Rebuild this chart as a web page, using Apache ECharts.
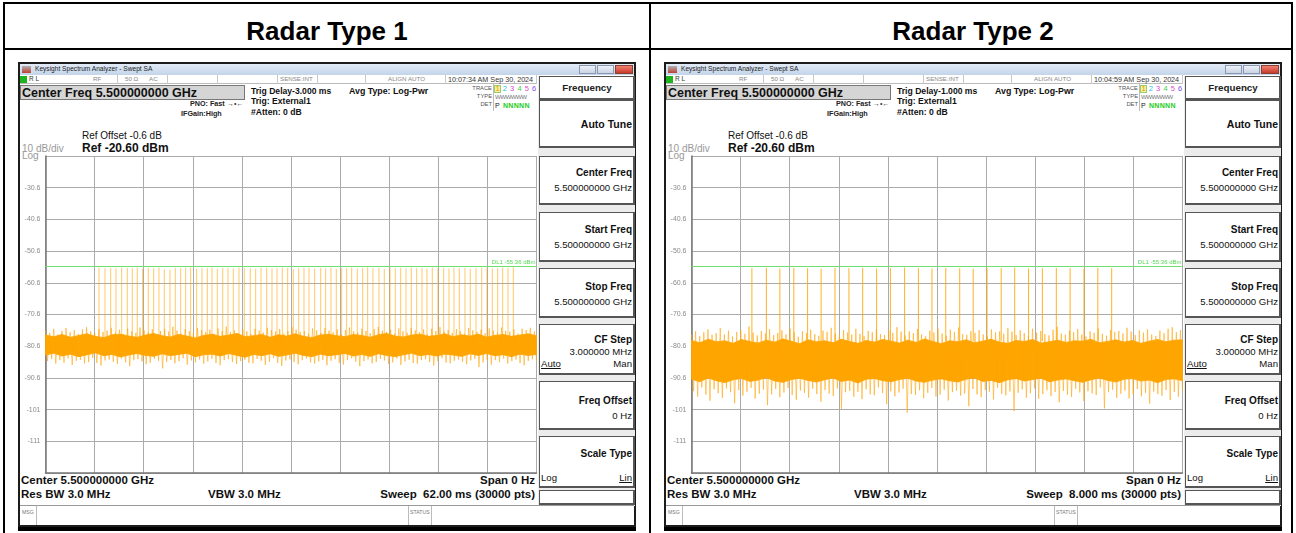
<!DOCTYPE html>
<html><head><meta charset="utf-8">
<script src="https://cdn.jsdelivr.net/npm/echarts/dist/echarts.min.js"></script>
<style>
html,body{margin:0;padding:0;background:#fff;}
#page{position:relative;width:1296px;height:533px;overflow:hidden;font-family:"Liberation Sans",Arial,sans-serif;background:#fff;}
.a{position:absolute;white-space:pre;}
.box{position:absolute;box-sizing:border-box;}
#chart{position:absolute;left:0;top:0;width:1296px;height:533px;z-index:5;}
</style></head>
<body><div id="page"><div id="chart"></div></div>
<script>
// ---------------- DATA ----------------
const REF_BOTTOM_DBM = -120.6;      // bottom graticule (Ref -20.60 dBm, 10 dB/div)
const DISPLAY_LINE_DBM = -55.36;    // DL1
const L_SWEEP_MS = 62;
const R_SWEEP_MS = 8;
const PULSE_FLOOR_DBM = -79;

// Radar Type 1 pulse positions (ms within 62 ms sweep) and peak levels (dBm)
const L_PULSE_MS = [6.76,7.51,8.23,8.90,9.62,10.33,10.96,11.59,12.27,12.98,13.66,14.33,15.00,15.72,16.39,17.07,17.70,18.33,19.09,19.76,
 20.43,21.02,21.69,22.38,23.04,23.71,24.43,25.10,25.86,26.54,27.21,27.93,28.60,29.23,29.90,30.58,31.29,31.97,32.64,33.27,
 33.99,34.75,35.38,36.05,36.72,37.40,38.03,38.66,39.37,40.05,40.68,41.35,42.11,42.78,43.50,44.17,44.85,45.52,46.19,46.87,
 47.54,48.17,48.84,49.56,50.28,50.95,51.58,52.25,52.97,53.64,54.36,55.08,55.75,56.42,57.10,57.73,58.40,59.07];
const L_PULSE_TOP = [-55.8,-56.0,-55.9,-56.1,-55.8,-55.9,-56.0,-55.8,-56.2,-55.9,-56.0,-55.8,-56.4,-56.5,-55.9,-56.0,-55.8,-55.7,-56.1,-55.9,
 -56.0,-55.8,-56.2,-55.9,-56.0,-56.1,-55.8,-55.9,-56.0,-56.2,-55.8,-55.9,-56.1,-56.0,-55.8,-55.9,-56.2,-56.0,-55.8,-55.9,
 -56.1,-55.9,-56.0,-55.8,-56.2,-55.9,-56.0,-55.8,-56.1,-55.9,-55.7,-56.0,-55.9,-56.2,-55.8,-56.0,-55.9,-56.1,-55.8,-56.0,
 -55.9,-56.2,-55.8,-56.0,-55.9,-56.1,-55.8,-56.0,-55.9,-56.2,-56.0,-55.8,-55.9,-56.1,-56.0,-55.8,-55.9,-55.7];

// Radar Type 2 pulse positions (ms within 8 ms sweep) and peak levels (dBm)
const R_PULSE_MS = [0.984,1.220,1.440,1.667,1.892,2.112,2.338,2.565,2.789,3.016,3.241,3.472,3.697,3.918,4.143,4.370,4.590,4.815,5.046,5.266,
 5.492,5.717,5.944,6.169,6.395,6.620,6.846];
const R_PULSE_TOP = [-56.0,-55.9,-56.1,-55.9,-56.0,-56.2,-55.9,-56.0,-55.9,-56.1,-56.0,-55.8,-56.0,-56.1,-55.9,-56.0,-56.2,-55.9,-56.0,-55.8,
 -56.1,-56.0,-55.9,-56.0,-56.1,-55.9,-56.0];

// Noise floor, Radar Type 1 (dBm): dense core band edges and outer spike extremes
const L_CORE_HI = [-77.1,-77.6,-76.9,-77.8,-77.2,-76.7,-77.5,-77.9,-77.0,-76.8,-77.4,-77.8,-77.1,-76.6,-77.3,-77.7,-76.9,-77.4,-78.0,-77.2,
 -76.8,-77.5,-77.1,-76.6,-77.6,-77.3,-76.9,-77.8,-77.0,-77.4,-76.7,-77.5,-77.9,-77.1,-76.8,-77.3,-77.6,-76.9,-77.2,-77.8,
 -77.0,-76.6,-77.4,-77.7,-77.1,-76.8,-77.5,-77.2,-76.7,-77.6,-77.0,-77.4,-76.8,-77.7,-77.2,-76.9,-77.5,-77.1,-76.7,-77.3];
const L_CORE_LO = [-83.4,-82.8,-83.7,-83.1,-83.9,-83.3,-82.7,-83.6,-83.2,-84.0,-83.4,-82.9,-83.5,-83.8,-83.0,-83.6,-83.2,-82.8,-83.9,-83.3,
 -83.1,-83.7,-82.9,-83.5,-84.1,-83.2,-83.6,-83.0,-83.8,-83.4,-82.8,-83.5,-83.9,-83.1,-83.6,-83.3,-82.9,-83.7,-83.2,-83.8,
 -83.0,-83.5,-83.9,-83.3,-82.8,-83.6,-83.2,-83.7,-83.1,-83.4,-83.8,-83.0,-83.5,-82.9,-83.6,-83.3,-83.9,-83.1,-83.5,-83.2];
const L_PEAK = [-75.6,-76.4,-75.1,-76.9,-75.8,-74.9,-76.2,-75.5,-76.7,-75.3,-74.6,-75.9,-76.5,-75.2,-76.1,-75.7,-74.8,-76.3,-75.4,-76.8,
 -75.0,-75.9,-76.4,-74.7,-75.6,-76.2,-75.3,-76.9,-75.8,-75.1,-76.0,-74.5,-75.7,-76.6,-75.2,-75.9,-76.3,-74.9,-75.5,-76.1,
 -75.4,-76.7,-75.0,-75.8,-74.4,-76.2,-75.6,-76.5,-75.3,-75.9,-76.8,-75.1,-75.7,-76.3,-74.8,-75.5,-76.0,-75.2,-76.6,-75.8,
 -74.6,-75.4,-76.1,-75.9,-76.7,-75.0,-75.6,-76.4,-74.9,-75.7,-76.2,-75.3,-76.8,-75.5,-74.7,-75.9,-76.3,-75.1,-75.8,-76.5,
 -75.2,-74.5,-75.7,-76.1,-75.4,-76.6,-75.0,-75.9,-76.3,-74.8,-75.6,-76.2,-75.3,-76.9,-75.1,-75.8,-74.6,-76.0,-75.5,-76.4,
 -75.2,-75.9,-76.7,-74.9,-75.6,-76.1,-75.4,-76.5,-75.0,-75.7,-76.3,-74.7,-75.8,-76.0,-75.3,-76.6,-75.1,-75.5,-74.8,-75.9];
const L_DIP = [-85.3,-84.6,-86.1,-85.0,-85.8,-84.4,-86.5,-85.2,-84.9,-86.0,-85.6,-84.3,-85.9,-86.7,-85.1,-84.8,-85.5,-86.2,-84.5,-85.7,
 -86.9,-85.0,-84.7,-85.4,-86.3,-85.8,-84.6,-85.2,-87.6,-85.5,-84.9,-86.0,-85.3,-84.4,-86.4,-85.1,-85.7,-84.8,-86.1,-85.4,
 -84.5,-85.9,-86.6,-85.0,-84.7,-85.6,-86.2,-85.3,-84.9,-85.8,-86.0,-84.6,-85.2,-86.5,-85.5,-84.3,-85.9,-86.8,-85.1,-84.8,
 -85.6,-86.3,-85.0,-84.5,-85.7,-86.1,-85.4,-84.9,-86.6,-85.2,-84.7,-85.8,-86.4,-85.0,-84.4,-85.5,-86.9,-85.3,-84.8,-86.0,
 -85.6,-84.6,-85.1,-86.2,-85.7,-84.5,-86.5,-85.4,-84.9,-85.9,-86.1,-85.0,-84.7,-85.6,-86.7,-85.3,-84.4,-85.8,-86.0,-85.2,
 -84.8,-85.5,-86.3,-85.1,-84.6,-87.2,-85.7,-84.9,-86.4,-85.0,-85.6,-84.5,-86.1,-85.3,-84.8,-85.9,-86.6,-85.2,-84.7,-85.4];

// Noise floor, Radar Type 2 (dBm)
const R_CORE_HI = [-78.8,-79.5,-78.4,-79.2,-78.9,-79.7,-78.5,-79.1,-79.6,-78.7,-79.3,-78.3,-79.0,-79.8,-78.6,-79.2,-78.9,-79.5,-78.4,-79.1,
 -79.7,-78.8,-79.3,-78.5,-79.0,-79.6,-78.7,-79.4,-78.3,-79.1,-79.8,-78.9,-79.2,-78.6,-79.5,-79.0,-78.4,-79.3,-79.7,-78.8,
 -79.1,-78.5,-79.6,-79.2,-78.7,-79.4,-78.9,-79.0,-78.4,-79.5,-79.1,-78.6,-79.3,-78.8,-79.7,-79.0,-78.5,-79.2,-78.7,-78.6];
const R_CORE_LO = [-91.0,-91.8,-90.6,-91.5,-92.1,-91.2,-90.8,-91.7,-91.3,-90.5,-91.6,-92.0,-91.1,-90.7,-91.4,-91.9,-91.2,-90.6,-91.7,-91.3,
 -92.2,-91.0,-90.8,-91.5,-91.8,-91.1,-90.7,-91.6,-92.0,-91.3,-90.9,-91.5,-91.9,-91.0,-90.6,-91.7,-91.4,-92.1,-91.2,-90.8,
 -91.6,-91.1,-90.7,-91.8,-91.3,-90.9,-91.5,-92.0,-91.2,-90.6,-91.4,-91.9,-91.0,-90.8,-91.6,-91.3,-92.1,-91.1,-90.9,-91.5];
const R_PEAK = [-76.8,-75.9,-77.4,-76.2,-75.3,-77.0,-76.5,-74.9,-76.9,-75.7,-77.5,-76.1,-75.5,-76.7,-74.4,-76.3,-77.2,-75.8,-76.6,-75.2,
 -77.1,-76.4,-75.6,-76.9,-75.0,-76.2,-77.6,-75.9,-76.5,-75.4,-76.8,-77.3,-75.7,-76.1,-74.8,-76.6,-77.0,-75.5,-76.3,-76.9,
 -75.1,-76.7,-77.4,-75.8,-76.2,-75.3,-76.8,-77.1,-75.6,-76.4,-74.6,-76.0,-77.2,-75.9,-76.5,-75.2,-76.9,-77.5,-75.7,-76.3,
 -75.0,-76.6,-77.3,-75.4,-76.1,-74.7,-76.8,-77.0,-75.8,-76.4,-75.5,-76.9,-77.6,-75.3,-76.2,-75.9,-76.7,-74.9,-76.0,-77.1,
 -75.6,-76.5,-77.4,-75.1,-76.3,-75.8,-76.8,-77.2,-75.4,-74.5,-76.6,-77.0,-75.7,-76.2,-75.2,-76.9,-77.5,-75.9,-76.4,-75.0,
 -76.7,-77.3,-75.5,-76.1,-75.8,-76.6,-74.8,-76.0,-77.1,-75.6,-76.3,-75.3,-76.9,-77.4,-75.7,-76.5,-75.1,-74.6,-76.2,-75.5];
const R_DIP = [-94.8,-96.5,-93.6,-95.9,-97.8,-94.2,-95.4,-96.9,-93.9,-95.1,-98.6,-94.5,-96.2,-95.0,-93.7,-97.1,-95.6,-94.3,-99.2,-95.8,
 -94.1,-96.7,-95.2,-93.8,-96.0,-97.5,-94.6,-95.3,-96.8,-94.0,-95.7,-98.1,-94.4,-95.5,-96.3,-93.9,-100.4,-95.1,-94.7,-96.6,
 -95.0,-97.3,-94.2,-95.8,-96.1,-93.6,-95.4,-98.9,-94.8,-96.4,-95.2,-94.0,-101.6,-95.7,-96.0,-94.5,-97.0,-95.3,-93.8,-96.5,
 -95.9,-94.3,-97.7,-95.1,-94.6,-96.2,-95.5,-99.5,-94.1,-95.8,-96.7,-94.4,-95.0,-97.4,-93.7,-95.6,-96.1,-94.9,-101.1,-95.3,
 -94.2,-96.8,-95.4,-93.9,-97.2,-95.7,-94.5,-96.3,-95.0,-98.3,-94.7,-95.9,-96.6,-94.0,-95.2,-97.9,-94.8,-95.5,-96.0,-93.6,
 -100.2,-95.1,-94.3,-96.9,-95.6,-94.6,-97.1,-95.8,-94.1,-96.4,-95.3,-98.7,-94.9,-95.7,-96.2,-94.4,-97.6,-95.0,-96.5,-94.7];

// Y tick labels shown on the graticule (dBm)
const Y_TICK_LABELS = ['-111','-101','-90.6','-80.6','-70.6','-60.6','-50.6','-40.6','-30.6'];

const PANELS = [
  {ox:0,   title:'Radar Type 1', trig:'Trig Delay-3.000 ms', clock:'10:07:34 AM Sep 30, 2024', sweep:'Sweep  62.00 ms (30000 pts)'},
  {ox:646, title:'Radar Type 2', trig:'Trig Delay-1.000 ms', clock:'10:04:59 AM Sep 30, 2024', sweep:'Sweep  8.000 ms (30000 pts)'}
];

// ---------------- CHROME (HTML) ----------------
const page = document.getElementById('page');
function el(x,y,w,h,st){const d=document.createElement('div');d.className='box';
  Object.assign(d.style,{left:x+'px',top:y+'px',width:w+'px',height:h+'px'},st||{});page.appendChild(d);return d;}
function txt(s,x,cy,size,o){o=o||{};const d=document.createElement('div');d.className='a';d.textContent=s;
  const st={fontSize:size+'px',lineHeight:size+'px',top:(cy-size/2)+'px',color:o.color||'#111',fontWeight:o.bold?'bold':'normal'};
  if(o.align==='right'){st.left=(x-600)+'px';st.width='600px';st.textAlign='right';}
  else if(o.align==='center'){st.left=(x-300)+'px';st.width='600px';st.textAlign='center';}
  else st.left=x+'px';
  if(o.ul)st.textDecoration='underline';
  if(o.ls)st.letterSpacing=o.ls;
  Object.assign(d.style,st);page.appendChild(d);return d;}

// table lines
el(3,2,1290,2,{background:'#000'});
el(3,48,1290,2,{background:'#000'});
el(3,2,2,531,{background:'#000'});
el(649,2,2,531,{background:'#000'});
el(1291,2,2,531,{background:'#000'});

PANELS.forEach(p=>{
  const o=p.ox;
  txt(p.title, o+327, 31, 26, {bold:true, align:'center', color:'#000'});
  // window
  el(o+18,62,618,465,{border:'2px solid #1c1c1c',background:'#fff'});
  el(o+20,64,614,11,{background:'linear-gradient(#e2ebf6,#c3d4ea)'});
  el(o+22,66,9,7,{background:'linear-gradient(#b0b0b0,#c04030)'});
  txt('Keysight Spectrum Analyzer - Swept SA', o+35, 69.5, 6.6, {color:'#222'});
  el(o+579,65,17,9,{border:'1px solid #8a98b0',background:'linear-gradient(#eef2f8,#c9d3e2)'});
  el(o+597,65,17,9,{border:'1px solid #8a98b0',background:'linear-gradient(#eef2f8,#c9d3e2)'});
  el(o+615,65,18,9,{border:'1px solid #8a4030',background:'linear-gradient(#f08070,#c83a28)'});
  // status row
  el(o+20,75,517,9,{borderBottom:'1px solid #bbb',background:'#fff'});
  el(o+20,76,7,7,{background:'#1db41d'});
  txt('R L', o+29, 79.5, 6.5, {color:'#333'});
  txt('RF', o+93, 79.5, 6.2, {color:'#888'});
  txt('50 Ω', o+125, 79.5, 6.2, {color:'#888'});
  txt('AC', o+149, 79.5, 6.2, {color:'#888'});
  txt('SENSE:INT', o+280, 79.5, 6.2, {color:'#888'});
  txt('ALIGN AUTO', o+388, 79.5, 6.2, {color:'#888'});
  txt(p.clock, o+448, 79.5, 7.2, {color:'#333'});
  [117,167,217,277,317,365,445,536].forEach(x=>el(o+x,75,1,9,{background:'#c8c8c8'}));
  // header info
  el(o+20,85,225,15,{background:'#d5d5d5',border:'1px solid #777'});
  txt('Center Freq 5.500000000 GHz', o+22, 93, 12.5, {bold:true});
  txt(p.trig, o+251, 91.5, 8.6, {bold:true});
  txt('Trig: External1', o+251, 101.5, 8.6, {bold:true});
  txt('#Atten: 0 dB', o+251, 112, 8.6, {bold:true});
  txt('PNO: Fast', o+190, 104, 7.2, {bold:true, color:'#222'});
  txt('→•←', o+227, 103.5, 7, {color:'#333'});
  txt('IFGain:High', o+181, 113.5, 7.2, {bold:true, color:'#222'});
  txt('Avg Type: Log-Pwr', o+349, 91.5, 8.8, {bold:true});
  txt('TRACE', o+492, 88.5, 5.8, {align:'right', color:'#555'});
  txt('TYPE', o+492, 96.5, 5.8, {align:'right', color:'#555'});
  txt('DET', o+492, 104.5, 5.8, {align:'right', color:'#555'});
  el(o+493,84,1,27,{background:'#bbb'});
  el(o+494,85,7,8,{background:'#f6f0a0',border:'1px solid #9ccf6a'});
  const dc=['#e59a00','#1fc0e0','#e040e0','#3cd040','#e050c0','#8050f0'];
  ['1','2','3','4','5','6'].forEach((d,i)=>txt(d, o+495.5+i*7.3, 89, 7.5, {color:dc[i]}));
  txt('WWWWWW', o+495, 97, 6.2, {color:'#777', ls:'-0.6px'});
  txt('P', o+495, 105, 7, {color:'#222'});
  txt('NNNNN', o+503, 105, 7, {color:'#22cc22', bold:true, ls:'0.3px'});
  txt('Ref Offset -0.6 dB', o+82, 136, 10, {color:'#111'});
  txt('Ref -20.60 dBm', o+82, 147.5, 12, {bold:true});
  txt('10 dB/div', o+22, 148.5, 10, {color:'#999'});
  txt('Log', o+22, 155.5, 10, {color:'#999'});
  // softkeys
  el(o+538,76,97,430,{background:'#ececec'});
  const sk={background:'#fff',border:'1px solid #555',borderRightWidth:'2px',borderBottomWidth:'2px'};
  [[76,24],[100,48],[156,49],[212,50],[268,50],[324,51],[381,49],[436,52],[490,15]].forEach(b=>el(o+539,b[0],96,b[1],sk));
  txt('Frequency', o+587, 87.5, 9.8, {bold:true, align:'center', color:'#222'});
  txt('Auto Tune', o+632, 124, 10.5, {bold:true, align:'right'});
  txt('Center Freq', o+632, 173, 10, {bold:true, align:'right'});
  txt('5.500000000 GHz', o+632, 188, 9.6, {align:'right'});
  txt('Start Freq', o+632, 230, 10, {bold:true, align:'right'});
  txt('5.500000000 GHz', o+632, 245, 9.6, {align:'right'});
  txt('Stop Freq', o+632, 287, 10, {bold:true, align:'right'});
  txt('5.500000000 GHz', o+632, 302, 9.6, {align:'right'});
  txt('CF Step', o+632, 340, 10, {bold:true, align:'right'});
  txt('3.000000 MHz', o+632, 352, 9.6, {align:'right'});
  txt('Auto', o+541, 364, 9.6, {ul:true});
  txt('Man', o+632, 364, 9.6, {align:'right'});
  txt('Freq Offset', o+632, 401, 10, {bold:true, align:'right'});
  txt('0 Hz', o+632, 416, 9.6, {align:'right'});
  txt('Scale Type', o+632, 454, 10, {bold:true, align:'right'});
  txt('Log', o+541, 478, 9.6, {});
  txt('Lin', o+632, 478, 9.6, {align:'right', ul:true});
  // bottom annotations
  txt('Center 5.500000000 GHz', o+21, 481, 11.5, {bold:true});
  txt('Span 0 Hz', o+535, 481, 11.5, {bold:true, align:'right'});
  txt('Res BW 3.0 MHz', o+21, 494.5, 11.5, {bold:true});
  txt('VBW 3.0 MHz', o+208, 494.5, 11.5, {bold:true});
  txt(p.sweep, o+535, 494.5, 11.5, {bold:true, align:'right'});
  el(o+20,505,614,20,{borderTop:'1px solid #999',background:'#fff'});
  el(o+36,506,1,19,{background:'#bbb'});
  el(o+408,506,1,19,{background:'#bbb'});
  el(o+431,506,1,19,{background:'#bbb'});
  txt('MSG', o+22, 513, 5.2, {color:'#777'});
  txt('STATUS', o+410, 513, 5.2, {color:'#777'});
  el(o+18,527,618,4,{background:'#000'});
});

// ---------------- CHART (ECharts) ----------------
const sh = v => (v === null ? null : +(v - REF_BOTTOM_DBM).toFixed(3));
const fmtY = v => { if (v <= 0.01 || v >= 99.99) return ''; const d = v + REF_BOTTOM_DBM;
  const s = Math.abs(d) >= 100 ? String(Math.round(d)) : d.toFixed(1); return Y_TICK_LABELS.includes(s) ? s : ''; };

const GRIDS = [{left:45.5, top:156, width:491, height:317, outerBoundsMode:'none'},
               {left:691.5, top:156, width:491, height:317, outerBoundsMode:'none'}];
const SWEEPS = [L_SWEEP_MS, R_SWEEP_MS];

const xAxes = SWEEPS.map((s,i)=>({type:'value', gridIndex:i, min:0, max:s, interval:s/10,
  axisLine:{show:true, onZero:false, lineStyle:{color:'#777', width:1.5}}, axisTick:{show:false}, axisLabel:{show:false},
  splitLine:{show:true, lineStyle:{color:'#ababab', width:1}}}));
const yAxes = SWEEPS.map((s,i)=>({type:'value', gridIndex:i, min:0, max:100, interval:10,
  axisLine:{show:true, lineStyle:{color:'#777', width:1.5}}, axisTick:{show:false},
  axisLabel:{show:true, formatter:fmtY, color:'#8c8c8c', fontSize:7, margin:5, fontFamily:'Liberation Sans, Arial'},
  splitLine:{show:true, lineStyle:{color:'#ababab', width:1}}}));

function zigzag(sweep, peaks, dips){ const n=peaks.length*2, out=[];
  for(let j=0;j<n;j++){ const v = (j%2===0)? peaks[j/2] : dips[(j-1)/2]; out.push([sweep*j/(n-1), sh(v)]); } return out; }
// core band as quads: [x0, lo0, hi0, x1, lo1, hi1]
function coreQuads(sweep, lo, hi){ const m=lo.length, out=[];
  for(let k=0;k<m-1;k++){ out.push([sweep*k/(m-1), sh(lo[k]), sh(hi[k]), sweep*(k+1)/(m-1), sh(lo[k+1]), sh(hi[k+1])]); } return out; }
function pulses(ms, tops){ const out=[]; ms.forEach((t,i)=>{ out.push([t, sh(PULSE_FLOOR_DBM)]); out.push([t, sh(tops[i])]); out.push([t, null]); }); return out; }

const NOISE = [
  {peaks:L_PEAK, dips:L_DIP, hi:L_CORE_HI, lo:L_CORE_LO, pulseMs:L_PULSE_MS, pulseTop:L_PULSE_TOP, pulseColor:'rgba(255,165,0,0.6)'},
  {peaks:R_PEAK, dips:R_DIP, hi:R_CORE_HI, lo:R_CORE_LO, pulseMs:R_PULSE_MS, pulseTop:R_PULSE_TOP, pulseColor:'rgba(255,165,0,0.85)'}
];
function renderQuad(params, api){
  const a=api.coord([api.value(0),api.value(1)]), b=api.coord([api.value(0),api.value(2)]);
  const c=api.coord([api.value(3),api.value(5)]), d=api.coord([api.value(3),api.value(4)]);
  return {type:'polygon', shape:{points:[a,b,c,d]}, style:{fill:'#ffa500', stroke:'#ffa500', lineWidth:0.8}};
}
const series = [];
NOISE.forEach((n,i)=>{
  const s = SWEEPS[i];
  series.push({type:'line', xAxisIndex:i, yAxisIndex:i, data:zigzag(s,n.peaks,n.dips), symbol:'none', silent:true,
    lineStyle:{color:'rgba(255,168,20,0.6)', width:1}, z:2});
  series.push({type:'custom', xAxisIndex:i, yAxisIndex:i, data:coreQuads(s,n.lo,n.hi), renderItem:renderQuad, silent:true,
    encode:{x:[0,3], y:[1,2,4,5]}, z:3});
  series.push({type:'line', xAxisIndex:i, yAxisIndex:i, data:pulses(n.pulseMs,n.pulseTop), symbol:'none', silent:true, connectNulls:false,
    lineStyle:{color:n.pulseColor, width:1}, z:4,
    markLine:{silent:true, symbol:'none', animation:false,
      lineStyle:{color:'#6ee06e', width:1, type:'solid'},
      label:{show:true, position:'insideEndTop', formatter:'DL1 -55.36 dBm', color:'#55d855', fontSize:6, distance:1},
      data:[{yAxis: sh(DISPLAY_LINE_DBM)}]}});
});

const chart = echarts.init(document.getElementById('chart'), null, {renderer:'canvas'});
chart.setOption({backgroundColor:'transparent', animation:false, grid:GRIDS, xAxis:xAxes, yAxis:yAxes, series});
</script></body></html>
